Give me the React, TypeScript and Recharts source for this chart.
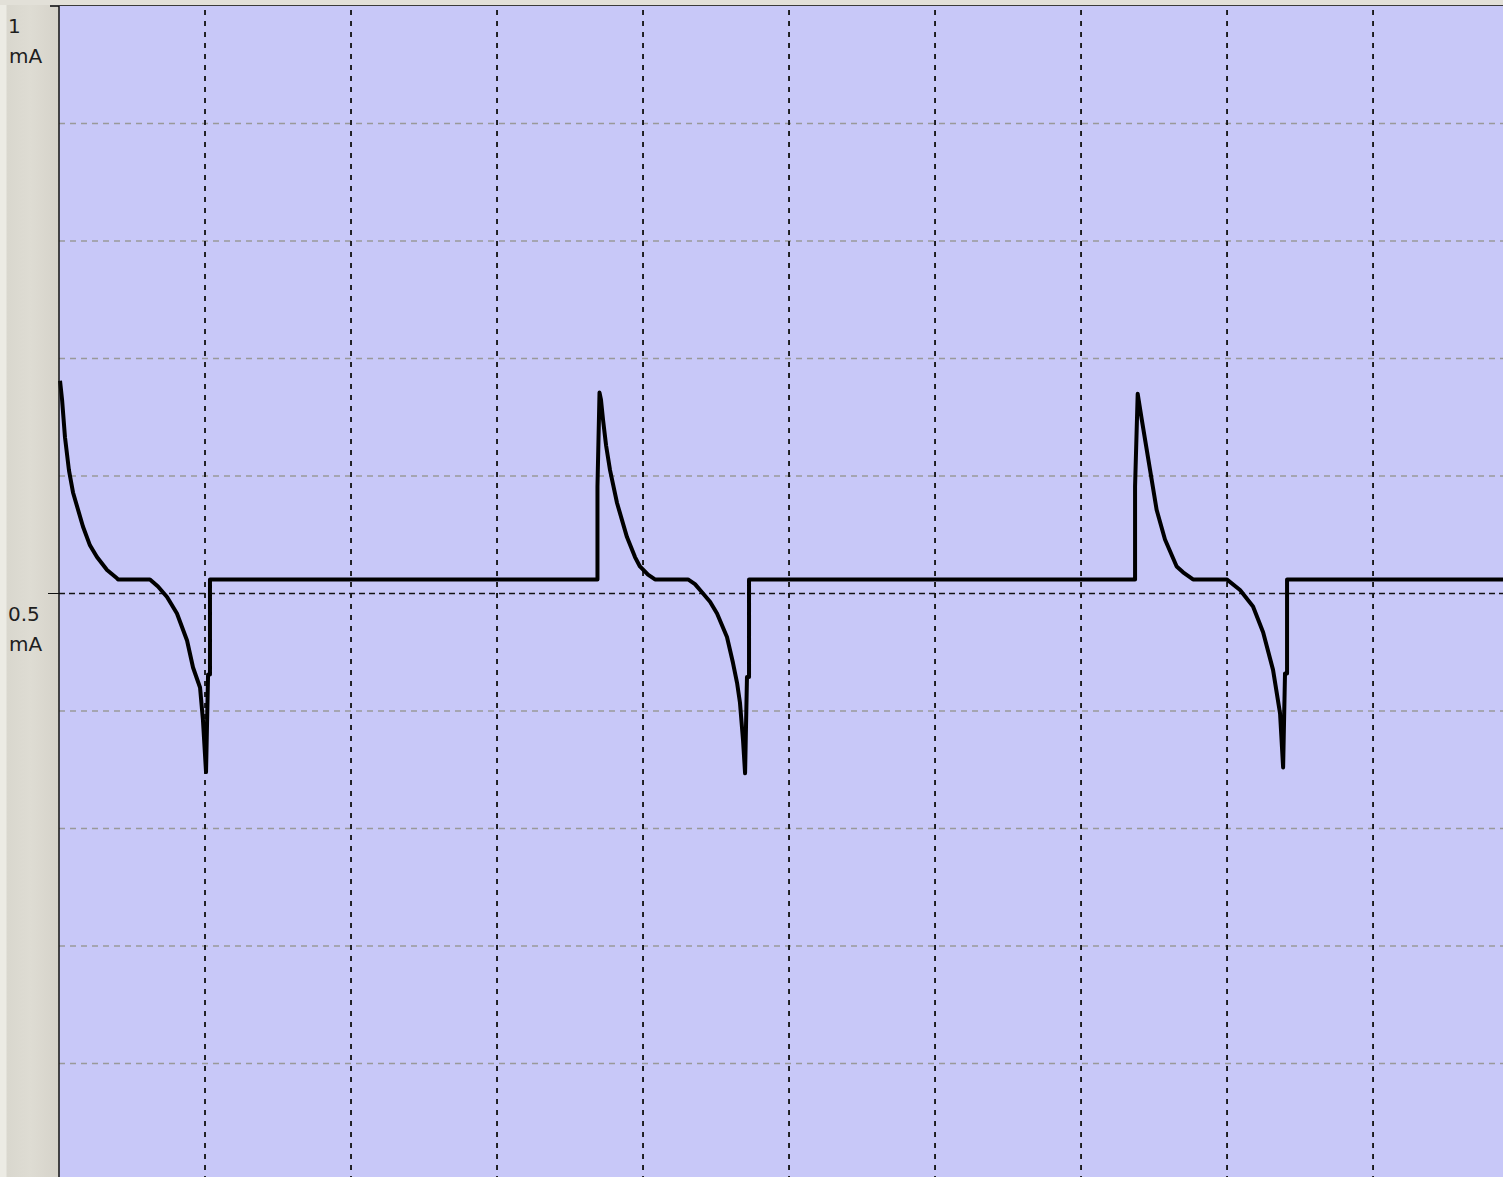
import React from "react";
import {
  LineChart,
  Line,
  XAxis,
  YAxis,
  ReferenceLine,
  ReferenceArea,
} from "recharts";

// trace (x in divisions, y in mA)
const timeDiv = [
  0.007, 0.021, 0.041, 0.068, 0.096, 0.164, 0.212, 0.26, 0.329, 0.397, 0.404,
  0.623, 0.678, 0.74, 0.808, 0.877, 0.918, 0.966, 0.986, 1.007, 1.021, 1.034,
  1.034,
  3.688, 3.688, 3.702, 3.712, 3.726, 3.747, 3.774, 3.822, 3.89, 3.945, 3.979,
  4.034, 4.082, 4.308, 4.356, 4.411, 4.459, 4.507, 4.575, 4.616, 4.644, 4.664,
  4.685, 4.699, 4.712, 4.726, 4.726,
  7.37, 7.37, 7.388, 7.416, 7.473, 7.518, 7.575, 7.655, 7.699, 7.767, 7.998,
  8.089, 8.178, 8.247, 8.315, 8.363, 8.384, 8.397, 8.411, 8.411, 9.89,
];

const currentMa = [
  0.681, 0.665, 0.633, 0.605, 0.586, 0.557, 0.541, 0.531, 0.52, 0.513, 0.512,
  0.512, 0.506, 0.497, 0.483, 0.46, 0.437, 0.42, 0.392, 0.348, 0.431, 0.431,
  0.512,
  0.512, 0.591, 0.671, 0.665, 0.648, 0.626, 0.605, 0.577, 0.548, 0.531, 0.523,
  0.516, 0.512, 0.512, 0.508, 0.5, 0.493, 0.483, 0.463, 0.441, 0.424, 0.407,
  0.375, 0.347, 0.429, 0.429, 0.512,
  0.512, 0.591, 0.67, 0.648, 0.605, 0.571, 0.546, 0.523, 0.518, 0.512, 0.512,
  0.503, 0.489, 0.467, 0.435, 0.398, 0.352, 0.432, 0.432, 0.512, 0.512,
];

const xMax = 9.89;
const vGrid = [1, 2, 3, 4, 5, 6, 7, 8, 9];
const hGrid = [0.1, 0.2, 0.3, 0.4, 0.6, 0.7, 0.8, 0.9];
const midLevel = 0.5;
const yTicks = [0.5, 1];
const yTickLabels = ["0.5", "1"];

const data = timeDiv.map((t, i) => ({ t, ma: currentMa[i] }));

const AmpTick = ({ y, payload }: any) => {
  const idx = yTicks.indexOf(payload.value);
  const label = idx >= 0 ? yTickLabels[idx] : String(payload.value);
  return (
    <g>
      <text x={8} y={y + 27} fill="#1e1e1e" fontSize={20} fontFamily="DejaVu Sans">
        {label}
      </text>
      <text x={9} y={y + 57} fill="#1e1e1e" fontSize={20} fontFamily="DejaVu Sans">
        mA
      </text>
    </g>
  );
};

export default function App() {
  return (
    <div
      style={{
        position: "absolute",
        top: 0,
        left: 0,
        width: 1503,
        height: 1177,
        overflow: "hidden",
        background:
          "linear-gradient(90deg, #ecebe4 0px, #ecebe4 6px, #d9d7ce 7px, #dedcd3 30px, #d6d3ca 58px)",
      }}
    >
      <div
        style={{
          position: "absolute",
          top: 0,
          left: 0,
          width: 1503,
          height: 5,
          background: "#e2e0d8",
        }}
      />
      <div
        style={{
          position: "absolute",
          top: 5,
          left: 50,
          width: 1453,
          height: 2,
          background: "#3a3a3a",
        }}
      />
      <LineChart
        width={1503}
        height={1181}
        data={data}
        margin={{ top: 6, right: 0, bottom: 0, left: 0 }}
        style={{ position: "absolute", top: 0, left: 0 }}
      >
        <XAxis dataKey="t" type="number" domain={[0, xMax]} hide />
        <YAxis
          type="number"
          domain={[0, 1]}
          ticks={yTicks}
          width={59}
          tickLine={false}
          axisLine={{ stroke: "#111", strokeWidth: 1.5 }}
          tick={<AmpTick />}
          interval={0}
        />
        <ReferenceArea
          x1={0}
          x2={xMax}
          y1={0}
          y2={1}
          fill="#c8c8f8"
          fillOpacity={1}
          stroke="none"
          ifOverflow="hidden"
        />
        {hGrid.map((v) => (
          <ReferenceLine
            key={`h${v}`}
            y={v}
            stroke="#999999"
            strokeWidth={1.5}
            strokeDasharray="6 5"
          />
        ))}
        <ReferenceLine
          y={midLevel}
          stroke="#111"
          strokeWidth={1.5}
          strokeDasharray="6 4"
        />
        {vGrid.map((v) => (
          <ReferenceLine
            key={`v${v}`}
            x={v}
            stroke="#111"
            strokeWidth={1.8}
            strokeDasharray="5 6"
          />
        ))}
        <Line
          dataKey="ma"
          type="linear"
          stroke="#000"
          strokeWidth={4}
          strokeLinejoin="round"
          dot={false}
          activeDot={false}
          isAnimationActive={false}
        />
      </LineChart>
      <div
        style={{
          position: "absolute",
          top: 593,
          left: 48,
          width: 11,
          height: 1,
          background: "#111",
        }}
      />
    </div>
  );
}
